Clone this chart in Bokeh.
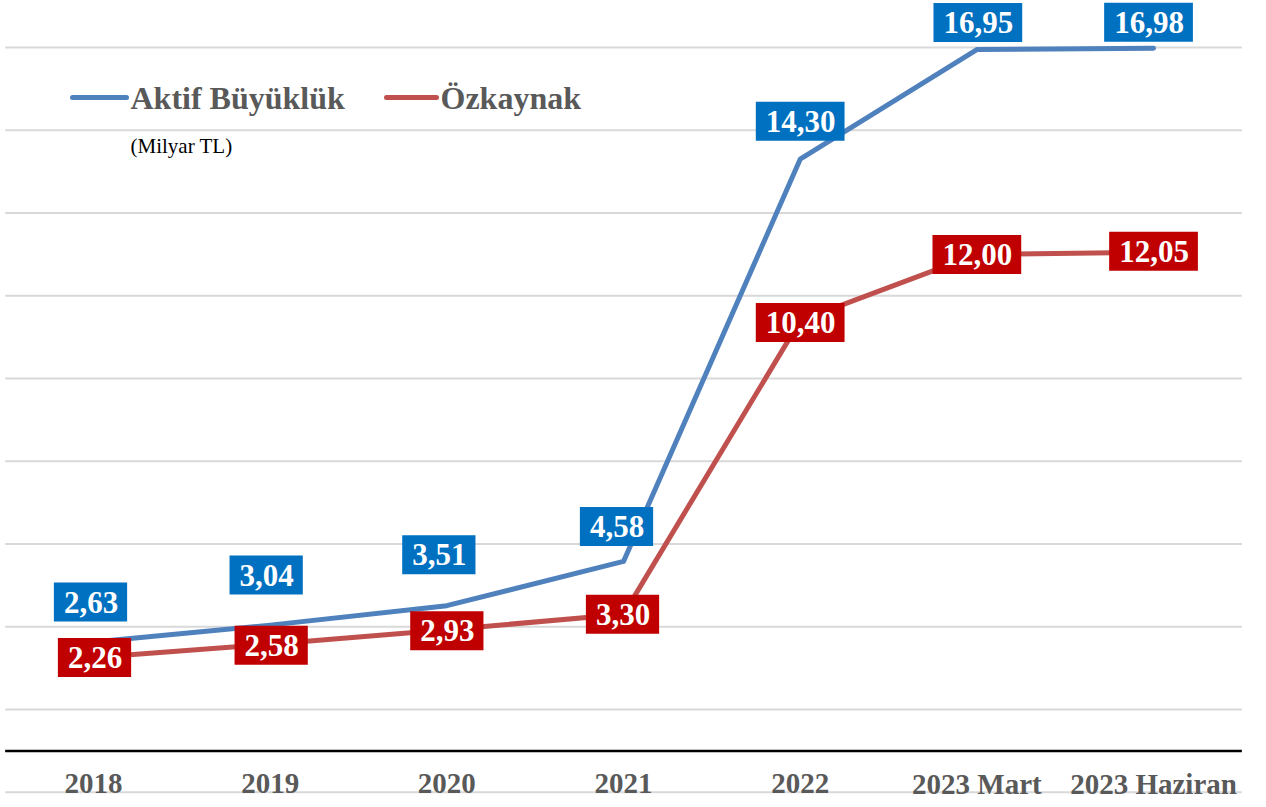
from bokeh.plotting import figure
from bokeh.models import Range1d
from bokeh.core.properties import value
from bokeh.embed import file_html
from bokeh.resources import INLINE

categories = ["2018", "2019", "2020", "2021", "2022", "2023 Mart", "2023 Haziran"]
aktif = [2.63, 3.04, 3.51, 4.58, 14.30, 16.95, 16.98]
ozkaynak = [2.26, 2.58, 2.93, 3.30, 10.40, 12.00, 12.05]
grid_ticks = [-1, 1, 3, 5, 7, 9, 11, 13, 15, 17]
series_names = ["Aktif Büyüklük", "Özkaynak"]
unit_note = "(Milyar TL)"

BLUE_LINE = "#4F81BD"
RED_LINE = "#C0504D"
BLUE_BOX = "#0070C0"
RED_BOX = "#C00000"
GRAY = "#595959"
FONT = value("Liberation Serif")

W, H = 1266, 807
# pixel mapping helpers (layout only)
X0, DX = 93.0, 176.67
Y0, DY = 750.4, 41.375


def px_x(px):
    return (px - X0) / DX


def px_y(py):
    return (Y0 - py) / DY


p = figure(width=W, height=H, output_backend="svg", toolbar_location=None,
           x_range=Range1d(px_x(0), px_x(W)), y_range=Range1d(px_y(H), px_y(0)),
           min_border=0, outline_line_color=None)
p.xaxis.visible = False
p.yaxis.visible = False
p.grid.visible = False
p.background_fill_color = "white"
p.border_fill_color = "white"

xs = list(range(len(categories)))
n = len(categories)

# gridlines
p.segment(x0=[-0.5] * len(grid_ticks), x1=[n - 0.5] * len(grid_ticks),
          y0=grid_ticks, y1=grid_ticks, line_color="#D9D9D9", line_width=2)
# baseline axis
p.segment(x0=[-0.5], x1=[n - 0.5], y0=[0], y1=[0], line_color="black", line_width=2.5)

# category labels
p.text(x=xs, y=[px_y(783)] * n, text=categories, text_font=FONT, text_font_style="bold",
       text_font_size="29px", text_color=GRAY, text_align="center", text_baseline="middle")

# lines
p.line(xs, aktif, line_color=BLUE_LINE, line_width=5, line_cap="round", line_join="round")
p.line(xs, ozkaynak, line_color=RED_LINE, line_width=5, line_cap="round", line_join="round")

# data labels (pixel offsets: layout)
blue_dx = [-3, -4, -8, -7, 0, 1, -5]
blue_dy = [-40, -50, -51, -35, -38, -27, -26]
red_dx = [1, 1, 0, -1, 0, 0, 0]
red_dy = [0, 1, 1, 0, 2, 0, -1]


def fmt(v):
    return f"{v:.2f}".replace(".", ",")


label_style = dict(text_font=FONT, text_font_style="bold", text_font_size="31px",
                   text_color="white", text_align="center", text_baseline="middle",
                   padding=(10, 9, 9, 9))
p.text(x=xs, y=aktif, text=[fmt(v) for v in aktif], x_offset=blue_dx, y_offset=blue_dy,
       background_fill_color=BLUE_BOX, **label_style)
p.text(x=xs, y=ozkaynak, text=[fmt(v) for v in ozkaynak], x_offset=red_dx, y_offset=red_dy,
       background_fill_color=RED_BOX, **label_style)

# legend
p.segment(x0=[px_x(72)], x1=[px_x(126)], y0=[px_y(97)], y1=[px_y(97)],
          line_color=BLUE_LINE, line_width=5, line_cap="round")
p.segment(x0=[px_x(386)], x1=[px_x(436)], y0=[px_y(97)], y1=[px_y(97)],
          line_color=RED_LINE, line_width=5, line_cap="round")
p.text(x=[px_x(130), px_x(440)], y=[px_y(97), px_y(97)], text=series_names,
       text_font=FONT, text_font_style="bold", text_font_size="32px", text_color=GRAY,
       text_align="left", text_baseline="middle")
p.text(x=[px_x(130)], y=[px_y(145)], text=[unit_note], text_font=FONT,
       text_font_size="21px", text_color="black", text_align="left", text_baseline="middle")

open("out.html", "w").write(file_html(p, INLINE))
